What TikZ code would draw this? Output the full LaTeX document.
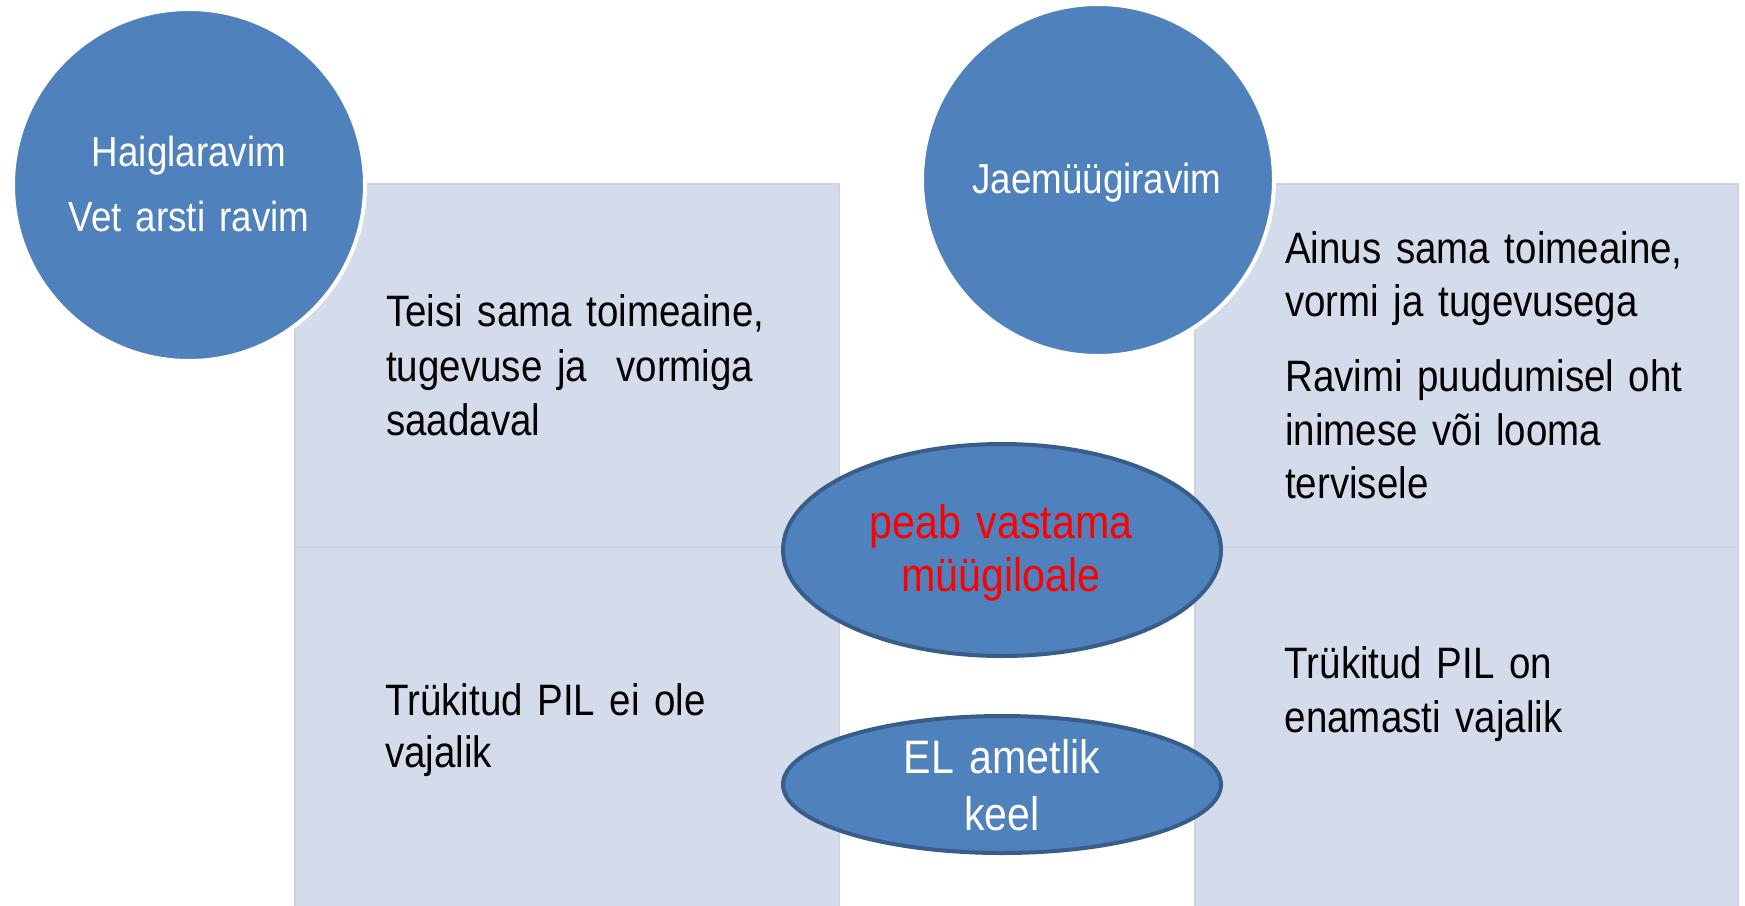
\documentclass[tikz,border=0pt]{standalone}
\usepackage{fontspec}
\setmainfont{Liberation Sans}[FakeStretch=0.875]
\usetikzlibrary{shapes.geometric}
\definecolor{cellfill}{RGB}{212,219,234}
\definecolor{cellline}{RGB}{203,211,229}
\definecolor{blobfill}{RGB}{79,129,189}
\definecolor{blobline}{RGB}{56,93,138}
\definecolor{warnred}{RGB}{255,0,0}
\newcommand\narrowspaces{\spaceskip=0.17em\relax}
\begin{document}
\begin{tikzpicture}[x=1pt,y=-1pt,
  cell/.style={rectangle, fill=cellfill, draw=cellline, line width=2.5pt, inner sep=0pt},
  disc/.style={circle, fill=blobfill, draw=white, line width=4pt, minimum size=352pt, inner sep=0pt},
  oval/.style={ellipse, fill=blobfill, draw=blobline, line width=4pt, inner sep=0pt, minimum width=438pt},
  bodytext/.style={anchor=base west, inner sep=0pt, text width=455pt, align=left, text=black},
  circtext/.style={anchor=base, inner sep=0pt, text width=340pt, align=center, text=white,
    font=\fontsize{42}{65}\selectfont\narrowspaces},
  ovaltext/.style={anchor=base, inner sep=0pt, text width=400pt, align=center}
]
\useasboundingbox (0,0) rectangle (1745,905);
\clip (0,0) rectangle (1745,905);
\fill[white] (0,0) rectangle (1745,905);

% table cells
\node[cell, minimum width=544pt, minimum height=363pt] (lefttop) at (567,365.5) {};
\node[cell, minimum width=544pt, minimum height=378pt] (leftbot) at (567,736) {};
\node[cell, minimum width=543pt, minimum height=363pt] (righttop) at (1466.5,365.5) {};
\node[cell, minimum width=543pt, minimum height=378pt] (rightbot) at (1466.5,736) {};

% circles
\node[disc] (hosp) at (189,185) {};
\node[disc] (retail) at (1098,180) {};

% ovals
\node[oval, minimum height=212pt] (spc) at (1002,550) {};
\node[oval, minimum height=137pt] (lang) at (1002,784.5) {};

% circle labels
\node[circtext] (hosplbl) at (189,166.7) {Haiglaravim\\Vet arsti ravim};
\node[circtext] (retaillbl) at (1097,193) {Jaemüügiravim};

% oval labels
\node[ovaltext, text=warnred, font=\fontsize{47}{53.5}\selectfont\narrowspaces] (spclbl) at (1001,538.3) {peab vastama\\müügiloale};
\node[ovaltext, text=white, font=\fontsize{47}{57}\selectfont\narrowspaces] (langlbl) at (1002,773.3) {EL ametlik\\keel};

% cell texts
\node[bodytext, font=\fontsize{44}{54.5}\selectfont\narrowspaces] (lefttoptxt) at (386,326.7) {Teisi sama toimeaine,\\tugevuse ja\ \ vormiga\\saadaval};
\node[bodytext, font=\fontsize{44}{52}\selectfont\narrowspaces] (leftbottxt) at (385,715) {Trükitud PIL ei ole\\vajalik};
\node[bodytext, font=\fontsize{44}{53.4}\selectfont\narrowspaces] (righttoptxt) at (1285,263.3) {Ainus sama toimeaine,\\vormi ja tugevusega\\[21.6pt]Ravimi puudumisel oht\\inimese või looma\\tervisele};
\node[bodytext, font=\fontsize{44}{54}\selectfont\narrowspaces] (rightbottxt) at (1284.5,678) {Trükitud PIL on\\enamasti vajalik};
\end{tikzpicture}
\end{document}
